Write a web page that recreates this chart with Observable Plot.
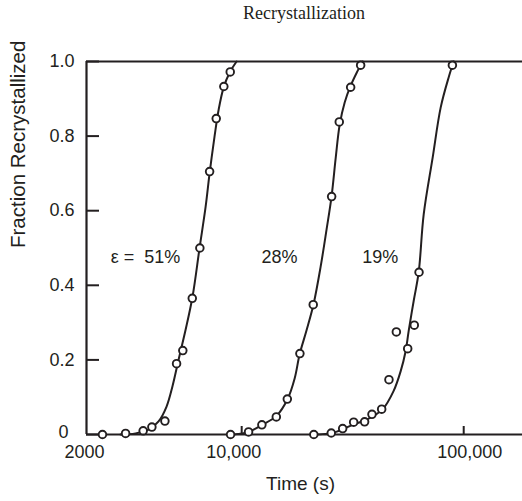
<!DOCTYPE html>
<html>
<head>
<meta charset="utf-8">
<script src="https://cdn.jsdelivr.net/npm/d3@7"></script>
<script src="https://cdn.jsdelivr.net/npm/@observablehq/plot@0.6"></script>
<style>
  html, body { margin: 0; padding: 0; background: #fff; }
  #wrap { position: relative; width: 522px; height: 501px; overflow: hidden; }
  #title { position: absolute; left: 86px; width: 436px; top: 3px; text-align: center;
           font-family: "Liberation Serif", "Times New Roman", serif; font-size: 18px; color: #231f20; }
  #chart { position: absolute; left: 0; top: 30px; }
</style>
</head>
<body>
<div id="wrap">
  <div id="title">Recrystallization</div>
  <div id="chart"></div>
</div>
<script>
// ---- data ----
const strainLabels = ["ε =  51%", "28%", "19%"];
const labelTime = [3690, 14800, 42100];
const labelFrac = [0.475, 0.475, 0.475];

const yTicks = [0, 0.2, 0.4, 0.6, 0.8, 1.0];
const xTicks = [2000, 10000, 100000];
const xTickLabels = ["2000", "10,000", "100,000"];

// measured points (time in s, fraction recrystallized)
const pts51Time = [2360, 3000, 3600, 3940, 4510, 5090, 5430, 5990, 6480, 7170, 7680, 8310, 8880];
const pts51Frac = [0, 0.003, 0.01, 0.02, 0.036, 0.19, 0.225, 0.365, 0.50, 0.705, 0.847, 0.933, 0.972];
const pts28Time = [8910, 10740, 12330, 14320, 16050, 18290, 21000, 25420, 27510, 30960, 34340];
const pts28Frac = [0, 0.007, 0.026, 0.047, 0.095, 0.217, 0.348, 0.638, 0.838, 0.931, 0.99];
const pts19Time = [21130, 25320, 28500, 31940, 35780, 38620, 42710, 46060, 49730, 55940, 59900, 62920, 88920];
const pts19Frac = [0, 0.004, 0.016, 0.033, 0.034, 0.054, 0.068, 0.147, 0.275, 0.23, 0.293, 0.435, 0.99];

// fitted curves
const fit51Time = [2846, 3326, 3806, 4222, 4588, 4882, 5194, 5586, 6008, 6460, 6878, 7168, 7550, 7870, 8288, 8820, 9484];
const fit51Frac = [0, 0.003, 0.013, 0.035, 0.075, 0.13, 0.2, 0.28, 0.37, 0.5, 0.61, 0.7, 0.8, 0.87, 0.93, 0.97, 1.0];
const fit28Time = [9194, 10740, 12290, 14360, 16100, 17320, 18240, 19610, 21080, 22680, 24120, 25420, 26500, 27620, 29100, 30960, 32960, 34340, 35060];
const fit28Frac = [0, 0.007, 0.025, 0.05, 0.095, 0.15, 0.215, 0.28, 0.35, 0.45, 0.55, 0.64, 0.74, 0.83, 0.89, 0.935, 0.97, 0.99, 1.0];
const fit19Time = [21080, 25960, 31940, 36940, 43160, 48360, 52020, 54780, 56520, 59520, 62700, 66040, 72500, 78780, 85600, 90140];
const fit19Frac = [0, 0.005, 0.027, 0.041, 0.068, 0.117, 0.17, 0.224, 0.278, 0.358, 0.435, 0.59, 0.743, 0.877, 0.958, 1.0];

// ---- build tables ----
const series = [
  {name: "51%", pt: pts51Time, pf: pts51Frac, ft: fit51Time, ff: fit51Frac},
  {name: "28%", pt: pts28Time, pf: pts28Frac, ft: fit28Time, ff: fit28Frac},
  {name: "19%", pt: pts19Time, pf: pts19Frac, ft: fit19Time, ff: fit19Frac}
];
const points = series.flatMap(s => s.pt.map((t, i) => ({series: s.name, time: t, frac: s.pf[i]})));
const curves = series.flatMap(s => s.ft.map((t, i) => ({series: s.name, time: t, frac: s.ff[i]})));
const labels = strainLabels.map((l, i) => ({text: l, time: labelTime[i], frac: labelFrac[i]}));

const ink = "#231f20";
const yFmt = d => d === 0 ? "0" : d.toFixed(1);
const xFmt = d => xTickLabels[xTicks.indexOf(d)];
const xLabelShift = [-2, -8, 6];

const chart = Plot.plot({
  width: 522,
  height: 471,
  marginLeft: 86,
  marginRight: 0,
  marginTop: 31,
  marginBottom: 67,
  style: {fontFamily: "'Liberation Sans', Arial, sans-serif", fontSize: "18px", color: ink, background: "#fff"},
  x: {type: "log", domain: [2000, 184000]},
  y: {domain: [0, 1]},
  marks: [
    Plot.ruleY([0, 1], {stroke: ink, strokeWidth: 2.2}),
    Plot.ruleX([2000], {stroke: ink, strokeWidth: 2.2}),
    // inward tick marks
    Plot.axisY(yTicks, {tickSize: 13, dx: 13, tickFormat: () => "", label: null, stroke: ink, strokeWidth: 2}),
    Plot.axisX([10000, 100000], {tickSize: 8, dy: -8, tickFormat: () => "", label: null, stroke: ink, strokeWidth: 2}),
    // tick labels
    Plot.axisY(yTicks.filter(d => d !== 0), {tickSize: 0, tickPadding: 12, tickFormat: yFmt, label: null, fill: ink}),
    Plot.axisY([0], {tickSize: 0, tickPadding: 12, dx: -6, dy: -2, tickFormat: yFmt, label: null, fill: ink}),
    ...xTicks.map((t, i) => Plot.axisX([t], {tickSize: 0, tickPadding: 11, dx: xLabelShift[i], tickFormat: xFmt, label: null, fill: ink})),
    // axis titles
    Plot.text(["Time (s)"], {frameAnchor: "bottom", dy: 49, dx: -4, fontSize: 19, fill: ink, lineAnchor: "middle"}),
    Plot.text(["Fraction Recrystallized"], {frameAnchor: "left", dx: -68, rotate: -90, fontSize: 20.5, fill: ink, lineAnchor: "middle"}),
    // curves and data
    Plot.line(curves, {x: "time", y: "frac", z: "series", curve: "catmull-rom", stroke: ink, strokeWidth: 2}),
    Plot.dot(points, {x: "time", y: "frac", r: 3.8, fill: "#fff", stroke: ink, strokeWidth: 1.9}),
    Plot.text(labels, {x: "time", y: "frac", text: "text", fontSize: 18, fill: ink})
  ]
});
document.getElementById("chart").appendChild(chart);
</script>
</body>
</html>
